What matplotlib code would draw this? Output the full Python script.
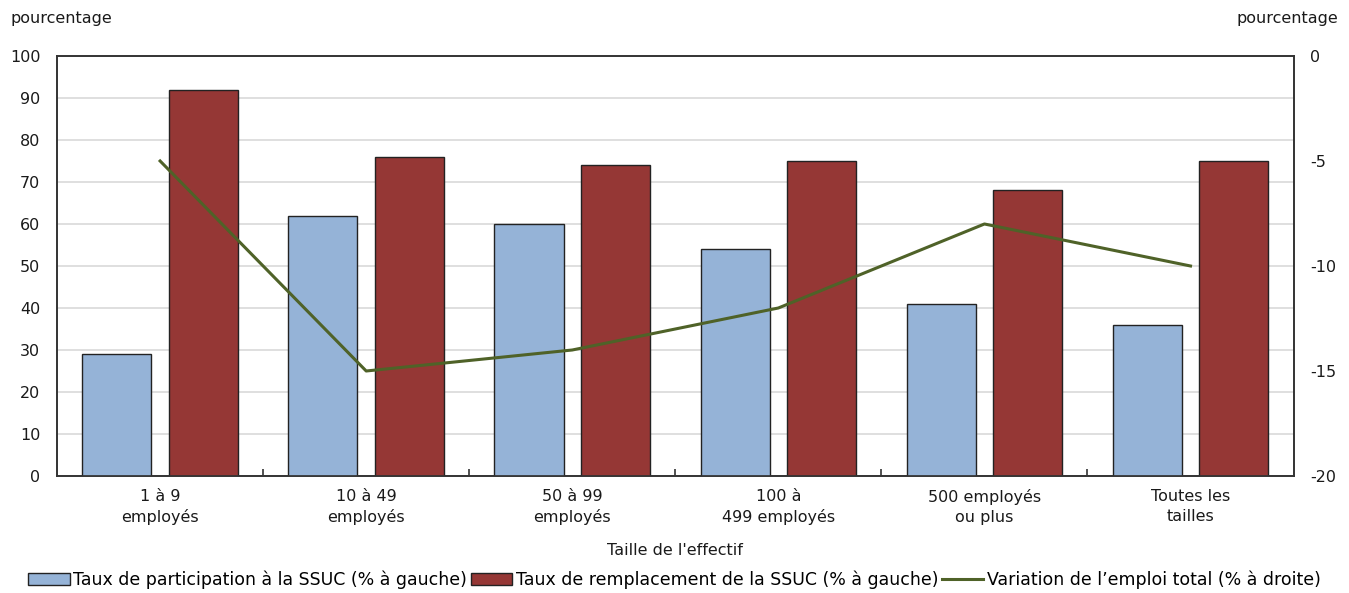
import matplotlib.pyplot as plt
import numpy as np
from matplotlib.lines import Line2D
from matplotlib.patches import Patch

categories = ["1 à 9\nemployés", "10 à 49\nemployés", "50 à 99\nemployés",
              "100 à\n499 employés", "500 employés\nou plus", "Toutes les\ntailles"]
participation = [29, 62, 60, 54, 41, 36]
remplacement = [92, 76, 74, 75, 68, 75]
variation_emploi = [-5, -15, -14, -12, -8, -10]

blue = "#95b3d7"
red = "#953735"
green = "#4f6228"
txt = "#1a1a1a"

plt.rcParams['font.family'] = ['DejaVu Sans']
plt.rcParams['axes.unicode_minus'] = False

fig = plt.figure(figsize=(13.49, 5.93), dpi=100)
ax = fig.add_axes([0.0423, 0.1973, 0.9166, 0.7083])
ax2 = ax.twinx()

x = np.arange(len(categories))
w = 0.335
ax.bar(x - 0.21, participation, w, color=blue, edgecolor="#222222", linewidth=1.0, zorder=3)
ax.bar(x + 0.21, remplacement, w, color=red, edgecolor="#222222", linewidth=1.0, zorder=3)
ax2.plot(x, variation_emploi, color=green, linewidth=2.2, zorder=4)

ax.set_xlim(-0.5, len(categories) - 0.5)
ax.set_ylim(0, 100)
ax.set_yticks(range(0, 101, 10))
ax2.set_ylim(-20, 0)
ax2.set_yticks(range(-20, 1, 5))

ax.grid(axis="y", color="#d9d9d9", linewidth=1.2, zorder=0)
ax.set_axisbelow(True)

ax.set_xticks(x)
ax.set_xticklabels(categories, fontsize=11.5, color=txt, linespacing=1.45)
ax.tick_params(axis="x", length=0, pad=9)
ax.set_xticks(np.arange(0.5, len(categories) - 1, 1), minor=True)
ax.tick_params(axis="x", which="minor", direction="in", length=5, width=1.2, color="#333333")
ax.tick_params(axis="y", length=0, labelsize=11.5, labelcolor=txt, pad=12)
ax2.tick_params(axis="y", length=0, labelsize=11.5, labelcolor=txt, pad=12)

for a in (ax, ax2):
    for s in a.spines.values():
        s.set_color("#333333")
        s.set_linewidth(1.2)

ax.set_xlabel("Taille de l'effectif", fontsize=11.5, color=txt, labelpad=13)
fig.text(0.008, 0.968, "pourcentage", fontsize=11.5, color=txt, ha="left", va="center")
fig.text(0.992, 0.968, "pourcentage", fontsize=11.5, color=txt, ha="right", va="center")

handles = [
    Patch(facecolor=blue, edgecolor="#222222", linewidth=1.0),
    Patch(facecolor=red, edgecolor="#222222", linewidth=1.0),
    Line2D([0], [0], color=green, linewidth=2.2),
]
labels = ["Taux de participation à la SSUC (% à gauche)",
          "Taux de remplacement de la SSUC (% à gauche)",
          "Variation de l’emploi total (% à droite)"]
fig.legend(handles, labels, loc="center", bbox_to_anchor=(0.5, 0.022), ncol=3,
           frameon=False, fontsize=12.5, handlelength=2.4, handleheight=0.65,
           handletextpad=0.2, columnspacing=0.2, borderaxespad=0)

fig.savefig("out.png", dpi=100)
